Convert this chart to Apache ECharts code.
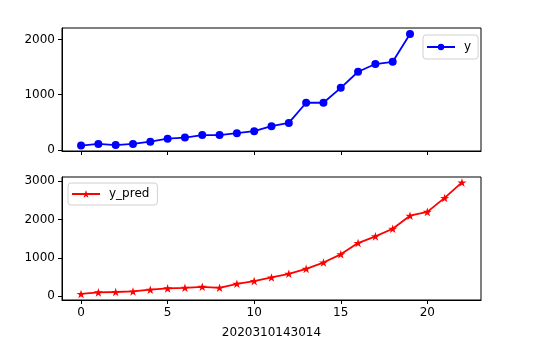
<!DOCTYPE html>
<html>
<head>
<meta charset="utf-8">
<script src="https://cdn.jsdelivr.net/npm/echarts@6/dist/echarts.min.js"></script>
<style>html,body{margin:0;padding:0;background:#fff;}#c{width:559px;height:361px;}</style>
</head>
<body>
<div id="c"></div>
<script>
const xTop = [0,1,2,3,4,5,6,7,8,9,10,11,12,13,14,15,16,17,18,19];
const yTop = [80,110,90,110,150,205,225,270,270,305,340,430,490,855,855,1125,1415,1555,1595,2100];
const xBottom = [0,1,2,3,4,5,6,7,8,9,10,11,12,13,14,15,16,17,18,19,20,21,22];
const yPred = [55,95,105,120,165,200,215,240,215,320,390,485,580,710,875,1090,1385,1560,1760,2100,2200,2565,2970];
const xTicks = [0,5,10,15,20];
const yTopTicks = [0,1000,2000];
const yBottomTicks = [0,1000,2000,3000];
const xName = '2020310143014';

const font = 'DejaVu Sans';
const star = 'path://M50,0 L61.2,34.5 L97.6,34.5 L68.2,55.9 L79.4,90.5 L50,69.1 L20.6,90.5 L31.8,55.9 L2.4,34.5 L38.8,34.5 Z';

function pairs(xs, ys){ return xs.map((x,i)=>[x, ys[i]]); }
const plain = v => String(v);

const chart = echarts.init(document.getElementById('c'), null, {renderer:'canvas'});
const axisLine = {show:true, onZero:false, lineStyle:{color:'#000', width:1}};
const tick = (vals)=>({show:true, inside:false, length:4, lineStyle:{color:'#000', width:1}, customValues: vals});
chart.setOption({
  animation:false,
  backgroundColor:'#fff',
  textStyle:{fontFamily:font},
  grid:[
    {left:62, top:28, width:419, height:123, show:true, borderColor:'#000', borderWidth:1, containLabel:false},
    {left:62, top:177, width:419, height:123, show:true, borderColor:'#000', borderWidth:1, containLabel:false}
  ],
  legend:[
    {data:['y'], left:423, top:35, orient:'horizontal', itemWidth:28, itemHeight:8, itemGap:5,
     padding:[6,7,6,3], borderColor:'#d0d0d0', borderWidth:1, borderRadius:3, backgroundColor:'rgba(255,255,255,0.8)',
     textStyle:{fontFamily:font, fontSize:12, color:'#000', padding:[0,0,0,4]}},
    {data:['y_pred'], left:68, top:183, orient:'horizontal', itemWidth:28, itemHeight:10, itemGap:5,
     padding:[5,8,5,3], borderColor:'#d0d0d0', borderWidth:1, borderRadius:3, backgroundColor:'rgba(255,255,255,0.8)',
     textStyle:{fontFamily:font, fontSize:12, color:'#000', padding:[0,0,0,4]}}
  ],
  xAxis:[
    {type:'value', gridIndex:0, min:-1.1, max:23.1, axisLine:axisLine, axisTick:tick(xTicks),
     axisLabel:{show:false}, splitLine:{show:false}},
    {type:'value', gridIndex:1, min:-1.1, max:23.1, axisLine:axisLine, axisTick:tick(xTicks),
     axisLabel:{show:true, customValues:xTicks, formatter:plain, margin:7, fontFamily:font, fontSize:12, color:'#000'},
     splitLine:{show:false},
     name:xName, nameLocation:'middle', nameGap:27, nameTextStyle:{fontFamily:font, fontSize:12, color:'#000'}}
  ],
  yAxis:[
    {type:'value', gridIndex:0, min:-18, max:2207, axisLine:axisLine, axisTick:tick(yTopTicks),
     axisLabel:{show:true, customValues:yTopTicks, formatter:plain, margin:7, fontFamily:font, fontSize:12, color:'#000'},
     splitLine:{show:false}},
    {type:'value', gridIndex:1, min:-104, max:3112, axisLine:axisLine, axisTick:tick(yBottomTicks),
     axisLabel:{show:true, customValues:yBottomTicks, formatter:plain, margin:7, fontFamily:font, fontSize:12, color:'#000'},
     splitLine:{show:false}}
  ],
  series:[
    {name:'y', type:'line', xAxisIndex:0, yAxisIndex:0, data:pairs(xTop,yTop),
     symbol:'circle', symbolSize:8, showAllSymbol:true,
     lineStyle:{color:'#0000ff', width:1.8}, itemStyle:{color:'#0000ff', borderWidth:0}},
    {name:'y_pred', type:'line', xAxisIndex:1, yAxisIndex:1, data:pairs(xBottom,yPred),
     symbol:star, symbolSize:9, symbolKeepAspect:true, showAllSymbol:true,
     lineStyle:{color:'#ff0000', width:1.8}, itemStyle:{color:'#ff0000', borderWidth:0}}
  ]
});
</script>
</body>
</html>
